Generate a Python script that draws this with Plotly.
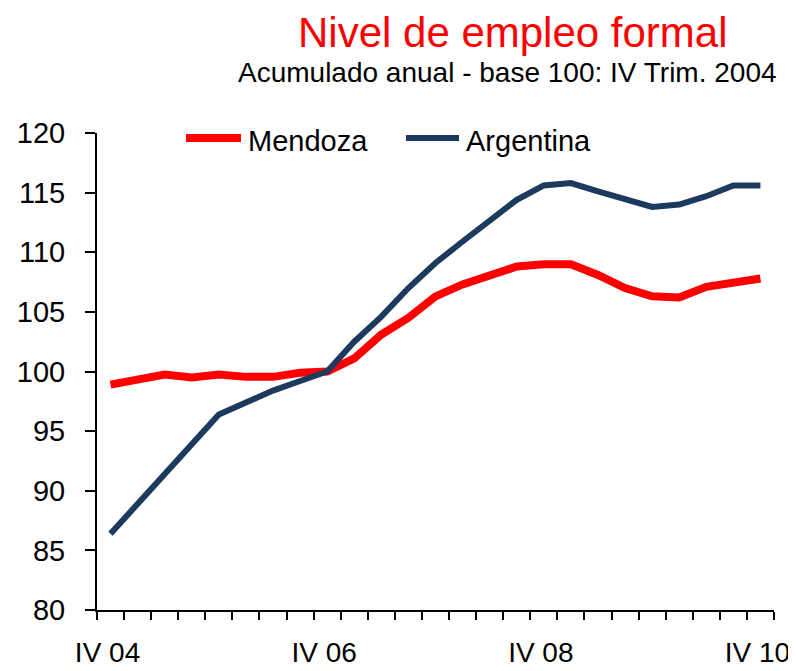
import plotly.graph_objects as go

categories = ["IV 04", "I 05", "II 05", "III 05", "IV 05", "I 06", "II 06", "III 06",
              "IV 06", "I 07", "II 07", "III 07", "IV 07", "I 08", "II 08", "III 08",
              "IV 08", "I 09", "II 09", "III 09", "IV 09", "I 10", "II 10", "III 10", "IV 10"]
mendoza = [98.9, 99.4, 99.75, 99.5, 99.75, 99.55, 99.55, 99.9, 100.0,
           101.1, 103.1, 104.5, 106.3, 107.3, 108.1, 108.8, 109.0,
           109.0, 108.1, 107.0, 106.3, 106.2, 107.1, 107.5, 107.8]
argentina = [86.4, 88.9, 91.4, 93.9, 96.4, 97.4, 98.4, 99.2, 100.0,
             102.5, 104.6, 107.0, 109.1, 110.9, 112.7, 114.4, 115.6,
             115.8, 115.1, 114.5, 113.8, 114.0, 114.7, 115.6, 115.6]
tick_labels = ["IV 04", "IV 06", "IV 08", "IV 10"]
y_ticks = [80, 85, 90, 95, 100, 105, 110, 115, 120]

RED = "#FF0000"
NAVY = "#1B3A5E"
FONT = "Liberation Sans, Arial, sans-serif"

# page body has an 8px margin: figure is placed at (8, 8) in the window
OFF = 8
W, H = 796 - OFF, 671 - OFF
ML, MT = 97 - OFF, 133 - OFF
MR = W - (774 - OFF)
MB = H - (610 - OFF)
PW, PH = W - ML - MR, H - MT - MB


def px(x):
    return (x - OFF - ML) / PW


def py(y):
    return (H - MB - (y - OFF)) / PH


idx = list(range(len(categories)))
tick_idx = [categories.index(t) for t in tick_labels]

fig = go.Figure()
fig.add_trace(go.Scatter(x=idx, y=mendoza, mode="lines", name="Mendoza",
                         line=dict(color=RED, width=8), showlegend=False))
fig.add_trace(go.Scatter(x=idx, y=argentina, mode="lines", name="Argentina",
                         line=dict(color=NAVY, width=6), showlegend=False))

# custom legend
legend_items = [("Mendoza", RED, 8, 186, 241, 246), ("Argentina", NAVY, 6, 406, 459, 464)]
for name, col, wd, x0, x1, xt in legend_items:
    fig.add_shape(type="line", xref="paper", yref="paper",
                  x0=px(x0), x1=px(x1), y0=py(138), y1=py(138),
                  line=dict(color=col, width=wd), layer="above")
    fig.add_annotation(text=name, xref="paper", yref="paper", x=px(xt), y=py(141),
                       xanchor="left", yanchor="middle", showarrow=False,
                       font=dict(size=29, color="black", family=FONT))

fig.add_annotation(text="Nivel de empleo formal", xref="paper", yref="paper",
                   x=px(513), y=py(33), xanchor="center", yanchor="middle",
                   showarrow=False, font=dict(size=42, color=RED, family=FONT))
fig.add_annotation(text="Acumulado anual - base 100: IV Trim. 2004", xref="paper", yref="paper",
                   x=px(779), y=py(72), xanchor="right", yanchor="middle",
                   showarrow=False, font=dict(size=28, color="black", family=FONT))

fig.update_layout(
    width=W, height=H,
    margin=dict(l=ML, r=MR, t=MT, b=MB),
    plot_bgcolor="white", paper_bgcolor="white",
    font=dict(family=FONT, size=29, color="black"),
    showlegend=False,
)
fig.update_xaxes(
    range=[-0.5, len(categories) - 0.5], automargin=False,
    tickmode="array", tickvals=tick_idx, ticktext=tick_labels,
    ticks="outside", ticklen=16, tickcolor="rgba(0,0,0,0)",
    tickfont=dict(size=28, family=FONT, color="black"),
    ticklabelshift=-3,
    showline=True, linecolor="black", linewidth=2,
    showgrid=False, zeroline=False,
    minor=dict(tickmode="array", tickvals=[i - 0.5 for i in range(len(categories) + 1)],
               ticks="outside", ticklen=8, tickwidth=2, tickcolor="black", showgrid=False),
)
fig.update_yaxes(
    range=[80, 120], tickmode="array", tickvals=y_ticks, automargin=False,
    ticks="outside", ticklen=10, tickwidth=2, tickcolor="black",
    tickfont=dict(size=29, family=FONT, color="black"),
    ticklabelstandoff=14,
    showline=True, linecolor="black", linewidth=2,
    showgrid=False, zeroline=False,
)

fig.write_html("out.html")
